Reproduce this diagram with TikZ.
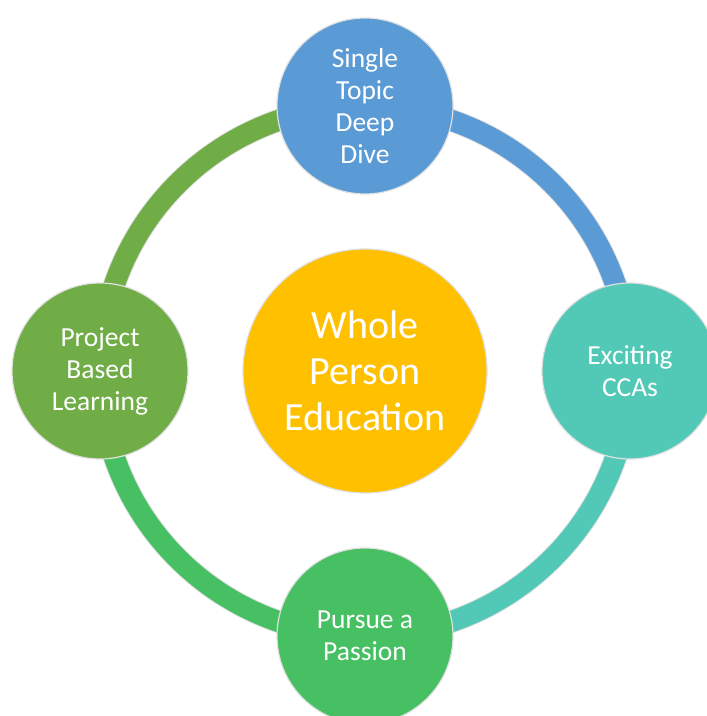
\documentclass[tikz,border=0pt]{standalone}
\usepackage{fontspec}
\setmainfont{Carlito}
\usetikzlibrary{positioning,backgrounds}
\definecolor{topicblue}{HTML}{5B9BD5}
\definecolor{ccateal}{HTML}{52C9B7}
\definecolor{passiongreen}{HTML}{47BF63}
\definecolor{projectgreen}{HTML}{70AD47}
\definecolor{hubgold}{HTML}{FFC000}
\begin{document}
\begin{tikzpicture}[
hub/.style={
circle,
fill=hubgold,
draw=black!12,
line width=1.2pt,
minimum size=244pt,
inner sep=0pt,
align=center,
text=white,
font=\fontsize{40}{46}\selectfont},
sat/.style={
on grid,
circle,
draw=black!12,
line width=1.2pt,
minimum size=176pt,
inner sep=0pt,
align=center,
text=white,
font=\fontsize{27.5}{32}\selectfont},
ring/.style={line width=1pt, draw=black!12, double distance=21pt}]
\useasboundingbox (0,0) rectangle (707pt,716pt);

% hub in the middle, four satellites on the ring round it
\node[hub](h) at (365pt,345pt) {Whole\\Person\\Education};
\node[sat,fill=topicblue,above=265pt of h](t){Single\\Topic\\Deep\\Dive};
\node[sat,fill=ccateal,right=265pt of h](r){Exciting\\CCAs};
\node[sat,fill=passiongreen,below=265pt of h](b){Pursue a\\Passion};
\node[sat,fill=projectgreen,left=265pt of h](l){Project\\Based\\Learning};

\begin{scope}[on background layer]
\draw[ring,double=topicblue] (t.center) arc[start angle=90, end angle=0, radius=265pt];
\draw[ring,double=ccateal] (r.center) arc[start angle=0, end angle=-90, radius=265pt];
\draw[ring,double=passiongreen] (b.center) arc[start angle=-90, end angle=-180, radius=265pt];
\draw[ring,double=projectgreen] (l.center) arc[start angle=180, end angle=90, radius=265pt];
\end{scope}
\end{tikzpicture}
\end{document}
